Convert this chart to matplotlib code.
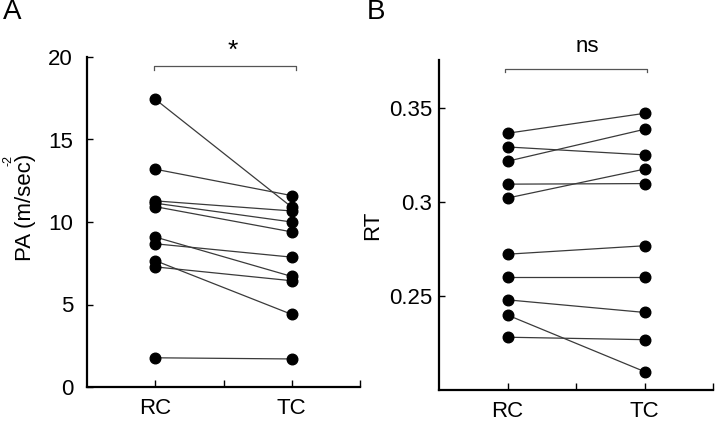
import matplotlib
matplotlib.use("Agg")
import matplotlib.pyplot as plt

plt.rcParams['font.family'] = ['Liberation Sans', 'DejaVu Sans']

conditions = ["RC", "TC"]
pa_rc = [17.44, 13.2, 11.28, 11.14, 10.93, 9.09, 8.68, 7.66, 7.28, 1.77]
pa_tc = [10.9, 11.6, 10.67, 10.0, 9.4, 6.7, 7.87, 4.4, 6.44, 1.7]
rt_rc = [0.3367, 0.3294, 0.3218, 0.3096, 0.3022, 0.2723, 0.2603, 0.2480, 0.2399, 0.2281]
rt_tc = [0.3473, 0.3252, 0.3388, 0.3099, 0.3176, 0.2768, 0.2603, 0.2413, 0.2098, 0.2268]
pa_ticks = [0, 5, 10, 15, 20]
rt_ticks = [0.25, 0.3, 0.35]
rt_ticklabels = ["0.25", "0.3", "0.35"]

fig = plt.figure(figsize=(7.2, 4.23), dpi=100)
axA = fig.add_axes([87/720, 1-387/423, 273/720, 330/423])
axB = fig.add_axes([439/720, 1-390/423, 274/720, 330/423])

xpos = [1, 2]

def style(ax, ypad):
    for s in ['top', 'right']:
        ax.spines[s].set_visible(False)
    for s in ['left', 'bottom']:
        ax.spines[s].set_linewidth(1.6)
        ax.spines[s].set_color('black')
    ax.set_xlim(0.5, 2.5)
    ax.set_xticks([1, 1.5, 2, 2.5])
    ax.set_xticklabels(["RC", "", "TC", ""])
    ax.tick_params(axis='x', direction='in', length=5, width=1, labelsize=16, pad=8)
    ax.tick_params(axis='y', direction='in', length=4, width=1, labelsize=16, pad=ypad)

for a, b in zip(pa_rc, pa_tc):
    axA.plot(xpos, [a, b], color='#3a3a3a', lw=0.9, zorder=2)
axA.scatter([1]*len(pa_rc), pa_rc, s=58, color='black', zorder=3)
axA.scatter([2]*len(pa_tc), pa_tc, s=58, color='black', zorder=3)
axA.set_ylim(0, 20)
axA.set_yticks(pa_ticks)
style(axA, 10)
fig.text(25/720, 1-207.5/423, "PA (m/sec)", rotation=90, fontsize=16, ha='center', va='center')
fig.text(9/720, 1-161/423, "-2", rotation=90, fontsize=9, ha='center', va='center')
axA.plot([0.99, 0.99, 2.03, 2.03], [19.2, 19.47, 19.47, 19.2], color='#555555', lw=0.9, clip_on=False)
axA.text(1.57, 20.35, "*", ha='center', va='center', fontsize=19)

for a, b in zip(rt_rc, rt_tc):
    axB.plot(xpos, [a, b], color='#3a3a3a', lw=0.9, zorder=2)
axB.scatter([1]*len(rt_rc), rt_rc, s=58, color='black', zorder=3)
axB.scatter([2]*len(rt_tc), rt_tc, s=58, color='black', zorder=3)
axB.set_ylim(0.2, 0.3757)
axB.set_yticks(rt_ticks)
axB.set_yticklabels(rt_ticklabels)
style(axB, 5)
axB.set_ylabel("RT", fontsize=16, labelpad=4)
axB.plot([0.98, 0.98, 2.02, 2.02], [0.3692, 0.3709, 0.3709, 0.3692], color='#555555', lw=0.9, clip_on=False)
axB.text(1.58, 0.383, "ns", ha='center', va='center', fontsize=16)

fig.text(3/720, 1-12/423, "A", fontsize=20, ha='left', va='center')
fig.text(367/720, 1-12/423, "B", fontsize=20, ha='left', va='center')

fig.savefig("out.png", dpi=100)
